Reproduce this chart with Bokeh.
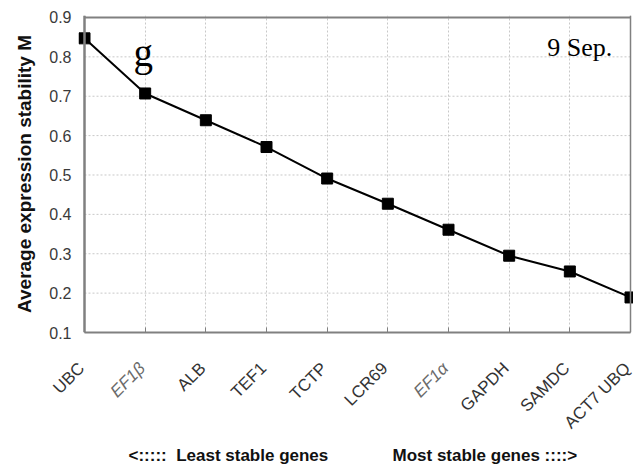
from math import pi
from bokeh.plotting import figure
from bokeh.models import (ColumnDataSource, Range1d, FixedTicker, Label, Span,
                          PrintfTickFormatter)
from bokeh.core.properties import value, field
from bokeh.embed import file_html
from bokeh.resources import INLINE

genes = ["UBC", "EF1\u03b2", "ALB", "TEF1", "TCTP", "LCR69", "EF1\u03b1", "GAPDH", "SAMDC", "ACT7 UBQ"]
gene_italic = [False, True, False, False, False, False, True, False, False, False]
m_values = [0.847, 0.707, 0.639, 0.571, 0.491, 0.427, 0.361, 0.295, 0.255, 0.189]
y_ticks = [0.1, 0.2, 0.3, 0.4, 0.5, 0.6, 0.7, 0.8, 0.9]
panel_letter = "g"
date_text = "9 Sep."
left_caption = "<:::::\u00a0\u00a0Least stable genes"
right_caption = "Most stable genes ::::>"

pos = list(range(len(genes)))
GREY = "#808080"
FONT = "Liberation Sans"
W = 633
MAIN_H = 342
LAB_H = 469 - MAIN_H
AXIS_LEFT_PX = 84
AXIS_RIGHT_PX = 630
FRAME_LEFT_PX = 78

px_per_unit = (AXIS_RIGHT_PX - AXIS_LEFT_PX) / (pos[-1] - pos[0])
xr = Range1d(pos[0] - (AXIS_LEFT_PX - FRAME_LEFT_PX) / px_per_unit,
             pos[0] + (W - AXIS_LEFT_PX) / px_per_unit)
p = figure(width=W, height=MAIN_H, x_range=xr,
           y_range=Range1d(y_ticks[0], y_ticks[-1] + 0.005),
           output_backend="svg", toolbar_location=None,
           min_border_left=FRAME_LEFT_PX, min_border_right=0, min_border_top=15, min_border_bottom=10)
p.background_fill_color = "white"
p.border_fill_color = "white"
p.outline_line_color = None

# grid
p.xgrid.ticker = FixedTicker(ticks=pos)
p.xgrid.grid_line_color = "#c8c8c8"
p.xgrid.grid_line_dash = "2 2"
p.ygrid.grid_line_color = None
p.segment(x0=[pos[0]] * len(y_ticks), x1=[pos[-1]] * len(y_ticks), y0=y_ticks, y1=y_ticks,
          line_color="#c8c8c8", line_dash="2 2", line_width=1)

# frame borders
p.add_layout(Span(location=pos[0], dimension="height", line_color=GREY, line_width=2.5))
p.add_layout(Span(location=pos[-1], dimension="height", line_color=GREY, line_width=1.5))
p.segment(x0=[pos[0]], x1=[pos[-1]], y0=[y_ticks[-1]], y1=[y_ticks[-1]],
          line_color=GREY, line_width=2)

# y axis
p.yaxis.ticker = FixedTicker(ticks=y_ticks)
p.yaxis.formatter = PrintfTickFormatter(format="%.1f")
p.yaxis.axis_line_color = None
p.yaxis.major_tick_line_color = None
p.yaxis.minor_tick_line_color = None
p.yaxis.major_label_standoff = 1
p.yaxis.major_label_text_font = FONT
p.yaxis.major_label_text_font_size = "16px"
p.yaxis.major_label_text_color = "#3a3a3a"
p.yaxis.axis_label = "Average expression stability M"
p.yaxis.axis_label_text_font = FONT
p.yaxis.axis_label_text_font_style = "bold"
p.yaxis.axis_label_text_font_size = "19px"
p.yaxis.axis_label_text_color = "#111111"
p.yaxis.axis_label_standoff = 11

# x axis (line and inward ticks only; labels drawn below)
p.xaxis.ticker = FixedTicker(ticks=pos)
p.xaxis.bounds = (pos[0], pos[-1])
p.xaxis.axis_line_color = GREY
p.xaxis.axis_line_width = 2
p.xaxis.major_tick_line_color = GREY
p.xaxis.major_tick_in = 5
p.xaxis.major_tick_out = 0
p.xaxis.minor_tick_line_color = None
p.xaxis.major_label_overrides = {i: " " for i in pos}
p.xaxis.major_label_text_font_size = "1px"
p.xaxis.major_label_standoff = 0

# data
p.line(pos, m_values, line_color="black", line_width=2)
p.scatter(pos, m_values, marker="square", size=11, fill_color="black", line_color="black")

# annotations
p.add_layout(Label(x=0.97, y=0.812, text=panel_letter, text_font="Liberation Serif",
                   text_font_size="39px", text_align="center", text_baseline="alphabetic",
                   text_color="black"))
p.add_layout(Label(x=8.70, y=0.824, text=date_text, text_font="Liberation Serif",
                   text_font_size="26px", text_align="right", text_baseline="alphabetic",
                   text_color="black"))

# lower panel (separate root below): rotated category labels and captions
qxr = Range1d(pos[0] - AXIS_LEFT_PX / px_per_unit, pos[0] + (W - AXIS_LEFT_PX) / px_per_unit)
q = figure(width=W, height=LAB_H, x_range=qxr, y_range=Range1d(0, LAB_H),
           output_backend="svg", toolbar_location=None,
           x_axis_type=None, y_axis_type=None,
           min_border_left=0, min_border_right=0, min_border_top=0, min_border_bottom=0)
q.outline_line_color = None
q.grid.visible = False
q.background_fill_color = "white"
q.border_fill_color = "white"

lab_src = ColumnDataSource(dict(
    x=pos, y=[LAB_H - 23] * len(pos), text=genes,
    style=["italic" if it else "normal" for it in gene_italic],
    color=["#6a6a6a" if it else "#333333" for it in gene_italic]))
q.text(x="x", y="y", text="text", source=lab_src,
       text_font_style=field("style"), text_color=field("color"),
       text_font=value(FONT), text_font_size=value("17px"),
       text_align="right", text_baseline="middle", angle=pi / 4, x_offset=-3)

cap_src = ColumnDataSource(dict(x=[0.725, 5.077], y=[14, 14], text=[left_caption, right_caption]))
q.text(x="x", y="y", text="text", source=cap_src,
       text_font=value(FONT), text_font_size=value("17px"), text_font_style=value("bold"),
       text_color="#111111", text_align="left", text_baseline="middle")

open("out.html", "w").write(file_html([p, q], INLINE))
